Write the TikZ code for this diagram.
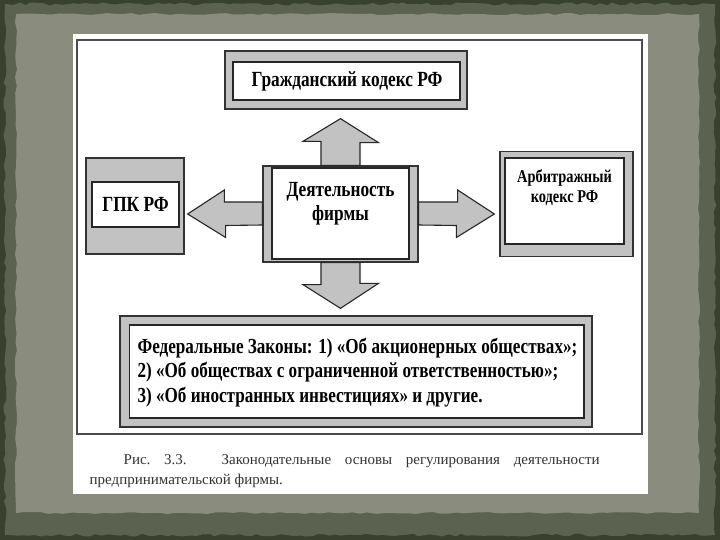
\documentclass[tikz,border=0pt]{standalone}
\usepackage{fontspec}
\setmainfont{Liberation Serif}[FakeStretch=0.8]
\newfontfamily\capfont{Liberation Serif}
\usetikzlibrary{positioning, calc, decorations.pathmorphing}
\definecolor{frameDark}{HTML}{3A4030}
\definecolor{frameMid}{HTML}{5C6250}
\definecolor{frameLight}{HTML}{8A8C7E}
\definecolor{boxgray}{HTML}{C2C2C2}
\definecolor{captiongray}{HTML}{333333}

\begin{document}
\begin{tikzpicture}[
  x=1pt, y=-1pt,
  outerbox/.style={rectangle, draw=black!80, line width=1.3pt, fill=boxgray, inner sep=0pt},
  innerbox/.style={rectangle, draw=black!85, line width=1.3pt, fill=white, inner sep=0pt},
  lbl/.style={inner sep=0pt, align=center, font=\fontsize{21.6}{24}\selectfont\bfseries},
  blockarrow/.style={draw=black!85, line width=1.1pt, fill=boxgray, line join=miter}
]
  % slide background
  \useasboundingbox (0,0) rectangle (720,540);
  \fill[frameDark] (0,0) rectangle (720,540);
  \fill[frameMid, decorate, decoration={random steps, segment length=6pt, amplitude=1.5pt}]
    (5,4) rectangle (715,535);
  \fill[frameLight, decorate, decoration={random steps, segment length=8pt, amplitude=1pt}]
    (16,14) rectangle (699,513);
  \fill[white] (73,34) rectangle (648,494);
  \draw[black!70, line width=1.2pt] (77,40) rectangle (642,434);

  % boxes
  \node[outerbox, minimum width=242pt, minimum height=58pt] (civil) at (346,80) {};
  \node[innerbox, minimum width=227pt, minimum height=38pt] (civilin) at (346.5,81) {};
  \node[lbl] (civiltxt) at (347,81) {Гражданский кодекс РФ};

  \node[outerbox, minimum width=98pt, minimum height=96pt] (gpk) at (135,206) {};
  \node[innerbox, minimum width=87pt, minimum height=45pt] (gpkin) at (135.5,204.5) {};
  \node[lbl] (gpktxt) at (135.5,204) {ГПК РФ};

  \node[outerbox, minimum width=155pt, minimum height=96pt] (firm) at (340.5,214) {};
  \node[innerbox, minimum width=137pt, minimum height=91pt] (firmin) at (340.5,213.5) {};
  \node[lbl, below=15pt of firmin.north] (firmtxt) {Деятельность\\фирмы};

  \node[outerbox, minimum width=133pt, minimum height=105pt] (arb) at (566.5,204) {};
  \node[innerbox, minimum width=119pt, minimum height=86pt] (arbin) at (564.5,201) {};
  \node[lbl, font=\fontsize{18}{20.5}\selectfont\bfseries, below=12pt of arbin.north] (arbtxt)
    {Арбитражный\\кодекс РФ};

  \node[outerbox, minimum width=472pt, minimum height=111pt] (laws) at (356,371.5) {};
  \node[innerbox, minimum width=454.5pt, minimum height=93pt] (lawsin) at (356.75,371.5) {};
  \node[lbl, align=left, font=\fontsize{21.4}{24.5}\selectfont\bfseries, anchor=north west]
    (lawstxt) at ([xshift=8.5pt, yshift=-13.5pt]lawsin.north west)
    {Федеральные Законы: 1) «Об акционерных обществах»;\\
     2) «Об обществах с ограниченной ответственностью»;\\
     3) «Об иностранных инвестициях» и другие.};

  % block arrows
  \draw[blockarrow] ([xshift=-19.5pt]firm.north) -- ++(0,-24) -- ++(-18,0)
    -- ($(firm.north |- civil.south)+(0,9)$) -- ++(38,24) -- ++(-18.5,0)
    -- ([xshift=19.5pt]firm.north) -- cycle;
  \draw[blockarrow] ([xshift=-19.5pt]firm.south) -- ++(0,22) -- ++(-18,0)
    -- ($(firm.south |- laws.north)+(0,-7)$) -- ++(38,-25) -- ++(-18.5,0)
    -- ([xshift=19.5pt]firm.south) -- cycle;
  \draw[blockarrow] ([yshift=12pt]firm.west) -- ++(-38,0) -- ++(0,-12)
    -- ($(firm.west -| gpk.east)+(3,0)$) -- ++(38,23.5) -- ++(0,-12)
    -- ([yshift=-11pt]firm.west) -- cycle;
  \draw[blockarrow] ([yshift=12pt]firm.east) -- ++(39,0) -- ++(0,-12)
    -- ($(firm.east -| arb.west)+(-5,0)$) -- ++(-38,23.5) -- ++(0,-12)
    -- ([yshift=-11pt]firm.east) -- cycle;

  % caption
  \node[inner sep=0pt, anchor=north west, text width=510pt, align=justify,
        text=captiongray, font=\capfont\fontsize{15}{20.5}\selectfont] (caption) at (89.5,454)
    {\hspace*{34pt}Рис.\ 3.3. Законодательные основы регулирования деятельности\linebreak
     предпринимательской фирмы.};
\end{tikzpicture}
\end{document}
